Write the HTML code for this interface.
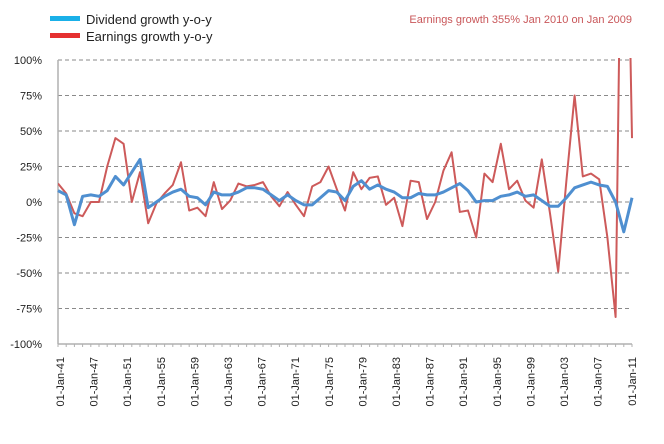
<!DOCTYPE html>
<html><head><meta charset="utf-8"><style>
body{margin:0;background:#fff;font-family:"Liberation Sans",sans-serif;}
svg text{font-family:"Liberation Sans",sans-serif;}
</style></head><body>
<svg id="chart" width="664" height="439" xmlns="http://www.w3.org/2000/svg">
<g id="grid"></g>
<g id="axes"></g>
<g id="series"></g>
<g>
<rect x="50" y="16" width="30" height="5" fill="#1ab0e8"/>
<text x="86" y="24" font-size="13" fill="#222">Dividend growth y-o-y</text>
<rect x="50" y="33" width="30" height="5" fill="#e53030"/>
<text x="86" y="41" font-size="13" fill="#222">Earnings growth y-o-y</text>
</g>
<text x="632" y="23" font-size="11" fill="#c9575a" text-anchor="end">Earnings growth 355% Jan 2010 on Jan 2009</text>
</svg>
<script>
const years = [];
for (let y = 1941; y <= 2011; y++) years.push(y);
const earnings = [13,6,-8,-10,0,0,25,45,41,0,
21,-15,-1,6,12,28,-6,-4,-10,14,
-5,1,13,11,12,14,4,-3,7,-2,
-10,11,14,25,9,-6,21,9,17,18,
-2,3,-17,15,14,-12,0,22,35,-7,
-6,-25,20,14,41,9,15,1,-4,30,
-8,-49,15,75,18,20,16,-25,-81,355,45];
const dividends = [8,5,-16,4,5,4,8,18,12,21,
30,-4,0,4,7,9,4,3,-2,7,
5,5,7,10,10,9,5,1,5,1,
-2,-2,3,8,7,1,11,15,9,12,
9,7,3,3,6,5,5,7,10,13,
8,0,1,1,4,5,7,4,5,1,
-3,-3,3,10,12,14,12,11,0,-21,3];
const yTicks = [100,75,50,25,0,-25,-50,-75,-100];
const xLabels = ["01-Jan-41","01-Jan-47","01-Jan-51","01-Jan-55","01-Jan-59","01-Jan-63","01-Jan-67","01-Jan-71","01-Jan-75","01-Jan-79","01-Jan-83","01-Jan-87","01-Jan-91","01-Jan-95","01-Jan-99","01-Jan-03","01-Jan-07","01-Jan-11"];

const NS = "http://www.w3.org/2000/svg";
const X0 = 58, X1 = 632, YT = 60, YB = 344;
const xs = i => X0 + i * (X1 - X0) / (years.length - 1);
const ys = v => YT + (100 - v) * (YB - YT) / 200;
function mk(tag, attrs, parent) {
  const e = document.createElementNS(NS, tag);
  for (const k in attrs) e.setAttribute(k, attrs[k]);
  parent.appendChild(e);
  return e;
}
const grid = document.getElementById('grid');
const axes = document.getElementById('axes');
const series = document.getElementById('series');

yTicks.forEach(t => {
  const y = ys(t);
  if (t !== -100) {
    const l = mk('line', {x1: X0, x2: X1, y1: y, y2: y, stroke: '#8a8a8a', 'stroke-width': 1, 'stroke-dasharray': '4,3'}, grid);
    
    
  }
  const tx = mk('text', {x: 42, y: y + 4, 'font-size': 11, 'text-anchor': 'end', fill: '#222'}, axes);
  tx.textContent = t + '%';
  
  
});
const ya = mk('line', {x1: X0, x2: X0, y1: YT, y2: YB, stroke: '#b0b0b0', 'stroke-width': 1.5}, axes);


const xa = mk('line', {x1: X0, x2: X1, y1: YB, y2: YB, stroke: '#b0b0b0', 'stroke-width': 1.5}, axes);


years.forEach((yr, i) => {
  const tk = mk('line', {x1: xs(i), x2: xs(i), y1: YB, y2: YB + 3, stroke: '#b0b0b0', 'stroke-width': 1}, axes);
  
  
});
xLabels.forEach((lab, k) => {
  const x = (k === xLabels.length - 1) ? 632 : 60 + k * 33.6;
  const t = mk('text', {x: 0, y: 0, 'font-size': 11, fill: '#222', 'text-anchor': 'end', transform: `translate(${x + 4},357) rotate(-90)`}, axes);
  t.textContent = lab;
  
  
});

const clip = mk('clipPath', {id: 'plotclip'}, document.getElementById('chart'));
mk('rect', {x: X0, y: YT - 2, width: X1 - X0 + 4, height: YB - YT + 4}, clip);

const ep = earnings.map((v, i) => xs(i) + ',' + ys(v)).join(' ');
const el = mk('polyline', {points: ep, fill: 'none', stroke: '#cd5a5a', 'stroke-width': 2, 'stroke-linejoin': 'round', 'clip-path': 'url(#plotclip)'}, series);


const dp = dividends.map((v, i) => xs(i) + ',' + ys(v)).join(' ');
const dl = mk('polyline', {points: dp, fill: 'none', stroke: '#4f8fd0', 'stroke-width': 3, 'stroke-linejoin': 'round'}, series);


</script>
</body></html>
